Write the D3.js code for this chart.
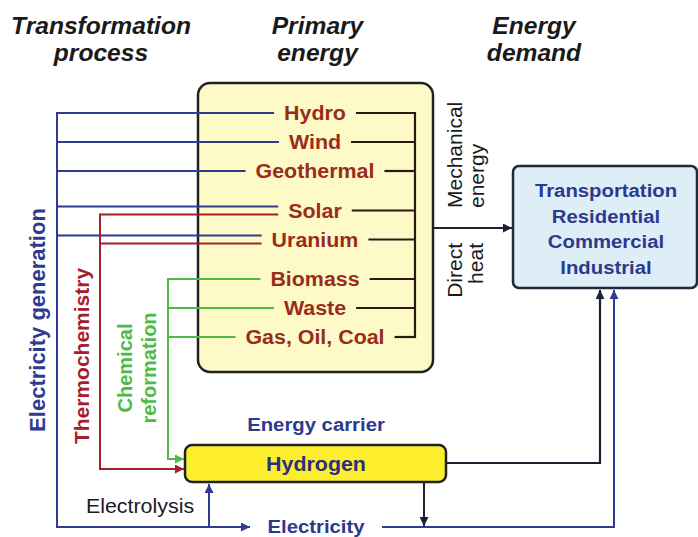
<!DOCTYPE html>
<meta charset="utf-8">
<script src="https://d3js.org/d3.v7.min.js"></script>
<style>
  body { margin: 0; background: #fff; }
  text { font-family: "Liberation Sans", Arial, sans-serif; }
</style>
<div id="diagram"></div>
<script>

// diagram content
var headers = [["Transformation", "process"], ["Primary", "energy"], ["Energy", "demand"]];
var sources = ["Hydro", "Wind", "Geothermal", "Solar", "Uranium", "Biomass", "Waste", "Gas, Oil, Coal"];
var sourceGroup = [0, 0, 0, 1, 1, 2, 2, 2];
var electricitySources = ["Hydro", "Wind", "Geothermal", "Solar", "Uranium"];
var thermoSources = ["Solar", "Uranium"];
var reformSources = ["Biomass", "Waste", "Gas, Oil, Coal"];
var processes = [["Electricity generation"], ["Thermochemistry"], ["Chemical", "reformation"]];
var directUses = [["Mechanical", "energy"], ["Direct", "heat"]];
var sectors = ["Transportation", "Residential", "Commercial", "Industrial"];
var carrierLabel = "Energy carrier";
var carrier = "Hydrogen";
var electricityLabel = "Electricity";
var electrolysisLabel = "Electrolysis";

var width = 698, height = 537;
var sx = 1.07; // the source picture is a bit wide

var blue = "#2e3b90", red = "#a3202b", green = "#4fba46", dark = "#1d2030",
    brown = "#9a2c1c", navy = "#2b3a8e";

var svg = d3.select("#diagram").append("svg")
  .attr("width", width).attr("height", height);

svg.append("rect").attr("width", width).attr("height", height).attr("fill", "#fff");

// arrow markers
var defs = svg.append("defs");
function marker(id, color) {
  defs.append("marker")
    .attr("id", id)
    .attr("viewBox", "0 0 10 10")
    .attr("refX", 10).attr("refY", 5)
    .attr("markerWidth", 11).attr("markerHeight", 9)
    .attr("markerUnits", "userSpaceOnUse")
    .attr("orient", "auto")
    .append("path").attr("d", "M0,0 L10,5 L0,10 z").attr("fill", color);
}
marker("a-blue", blue);
marker("a-red", red);
marker("a-green", green);
marker("a-dark", dark);

// stretched horizontal text helper
function hText(str, x, y, size, weight, color, italic) {
  return svg.append("text")
    .attr("transform", "translate(" + x + "," + y + ") scale(" + sx + ",1)")
    .attr("text-anchor", "middle")
    .attr("font-size", size)
    .attr("font-weight", weight)
    .attr("font-style", italic ? "italic" : "normal")
    .attr("fill", color)
    .text(str);
}
// rotated text helper
function vText(str, x, y, size, weight, color, anchor) {
  return svg.append("text")
    .attr("transform", "translate(" + x + "," + y + ") rotate(-90)")
    .attr("text-anchor", anchor || "middle")
    .attr("font-size", size)
    .attr("font-weight", weight)
    .attr("fill", color)
    .text(str);
}

// headers
var headerX = d3.scalePoint().domain(d3.range(headers.length)).range([101, 534]);
headers.forEach(function(h, i) {
  h.forEach(function(line, j) {
    hText(line, headerX(i), 34 + j * 27, 23, "bold", "#1a1a1a", true);
  });
});

// boxes
svg.append("rect").attr("x", 198).attr("y", 83).attr("width", 235).attr("height", 289)
  .attr("rx", 12).attr("fill", "#fdfac8").attr("stroke", "#222").attr("stroke-width", 2.5);
svg.append("rect").attr("x", 513).attr("y", 166).attr("width", 184).attr("height", 122)
  .attr("rx", 6).attr("fill", "#ddeef6").attr("stroke", "#1e2b3a").attr("stroke-width", 2.5);
svg.append("rect").attr("x", 185).attr("y", 445).attr("width", 261).attr("height", 37)
  .attr("rx", 7).attr("fill", "#fcee2c").attr("stroke", "#222").attr("stroke-width", 2.5);

// source rows
var row = d3.scaleLinear().domain([0, sources.length - 1]).range([113, 316]);
var gap = d3.scaleLinear().domain([0, 2]).range([0, 21]);
function yOf(s) { var i = sources.indexOf(s); return row(i) + gap(sourceGroup[i]); }

var labelCx = 315, busX = 415;
var extent = {};
sources.forEach(function(s) {
  var t = hText(s, labelCx, yOf(s) + 7, 20, "bold", brown, false);
  var w = t.node().getComputedTextLength() * sx;
  extent[s] = [labelCx - w / 2 - 10, labelCx + w / 2 + 10];
});

// right bus to demand
var line = d3.line();
sources.forEach(function(s) {
  svg.append("path").attr("d", line([[extent[s][1], yOf(s)], [busX, yOf(s)]]))
    .attr("stroke", "#2a1a12").attr("stroke-width", 2.2).attr("fill", "none");
});
svg.append("path").attr("d", line([[busX, yOf(sources[0]) - 1], [busX, yOf(sources[7]) + 1]]))
  .attr("stroke", "#2a1a12").attr("stroke-width", 2.2).attr("fill", "none");
svg.append("path").attr("d", line([[433, 228], [512, 228]]))
  .attr("stroke", dark).attr("stroke-width", 2.2).attr("marker-end", "url(#a-dark)");

function shared(s) { return electricitySources.indexOf(s) >= 0 && thermoSources.indexOf(s) >= 0; }

// electricity generation (blue)
var elecX = 57, bottomY = 527;
electricitySources.forEach(function(s) {
  var y = yOf(s) - (shared(s) ? 4 : 0);
  svg.append("path").attr("d", line([[elecX, y], [extent[s][0], y]]))
    .attr("stroke", blue).attr("stroke-width", 2).attr("fill", "none");
});
svg.append("path").attr("d", line([[elecX, yOf(sources[0]) - 1], [elecX, bottomY], [250, bottomY]]))
  .attr("stroke", blue).attr("stroke-width", 2).attr("fill", "none").attr("marker-end", "url(#a-blue)");
svg.append("path").attr("d", line([[382, bottomY], [614, bottomY], [614, 290]]))
  .attr("stroke", blue).attr("stroke-width", 2).attr("fill", "none").attr("marker-end", "url(#a-blue)");
svg.append("path").attr("d", line([[209, bottomY], [209, 484]]))
  .attr("stroke", blue).attr("stroke-width", 2).attr("fill", "none").attr("marker-end", "url(#a-blue)");

// thermochemistry (red)
var thermoX = 100;
thermoSources.forEach(function(s) {
  var y = yOf(s) + (shared(s) ? 4 : 0);
  svg.append("path").attr("d", line([[extent[s][0], y], [thermoX, y]]))
    .attr("stroke", red).attr("stroke-width", 2).attr("fill", "none");
});
svg.append("path")
  .attr("d", line([[thermoX, yOf(thermoSources[0]) + 3], [thermoX, 469], [184, 469]]))
  .attr("stroke", red).attr("stroke-width", 2).attr("fill", "none").attr("marker-end", "url(#a-red)");

// chemical reformation (green)
var reformX = 168;
reformSources.forEach(function(s) {
  var y = yOf(s);
  svg.append("path").attr("d", line([[extent[s][0], y], [reformX, y]]))
    .attr("stroke", green).attr("stroke-width", 2).attr("fill", "none");
});
svg.append("path")
  .attr("d", line([[reformX, yOf(reformSources[0]) - 1], [reformX, 459], [184, 459]]))
  .attr("stroke", green).attr("stroke-width", 2).attr("fill", "none").attr("marker-end", "url(#a-green)");

// hydrogen outputs
svg.append("path").attr("d", line([[446, 463], [600, 463], [600, 290]]))
  .attr("stroke", dark).attr("stroke-width", 2.2).attr("fill", "none").attr("marker-end", "url(#a-dark)");
svg.append("path").attr("d", line([[424, 483], [424, 526]]))
  .attr("stroke", dark).attr("stroke-width", 2).attr("fill", "none").attr("marker-end", "url(#a-dark)");

// process labels (rotated)
vText(processes[0][0], 45, 320, 22, "bold", blue);
vText(processes[1][0], 89, 356, 21, "bold", red);
vText(processes[2][0], 132, 368, 20, "bold", green);
vText(processes[2][1], 156, 368, 20, "bold", green);

// direct uses (rotated)
vText(directUses[0][0], 462, 208, 21, "normal", "#1a1a1a", "start");
vText(directUses[0][1], 484, 208, 21, "normal", "#1a1a1a", "start");
vText(directUses[1][0], 462, 243, 21, "normal", "#1a1a1a", "end");
vText(directUses[1][1], 483, 243, 21, "normal", "#1a1a1a", "end");

// demand sectors
var sectorY = d3.scalePoint().domain(sectors).range([197, 274]);
sectors.forEach(function(s) {
  hText(s, 606, sectorY(s), 19, "bold", navy, false);
});

// carrier and electricity labels
hText(carrierLabel, 316, 431, 19, "bold", navy, false);
hText(carrier, 316, 471, 20, "bold", "#2b2f80", false);
hText(electricityLabel, 316, 533, 19, "bold", navy, false);
hText(electrolysisLabel, 140, 513, 20, "normal", "#1a1a2a", false);

</script>
